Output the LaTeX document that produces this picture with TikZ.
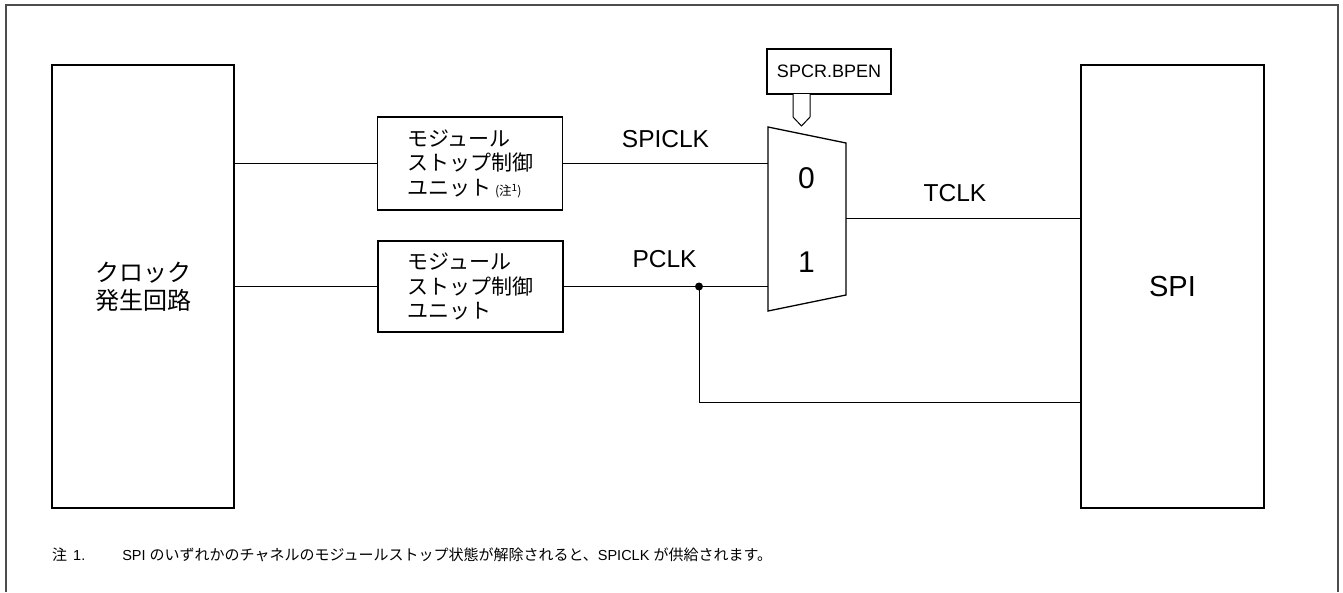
\documentclass[tikz,border=0pt]{standalone}
\usepackage{fontspec}
\setmainfont{Liberation Sans}
\newfontfamily\jp{Noto Sans CJK JP}
\usetikzlibrary{calc}
\begin{document}
\begin{tikzpicture}[x=1pt,y=-1pt,
  blk/.style={draw, line width=1.3pt, inner sep=0pt, outer sep=0pt},
  wire/.style={line width=1pt},
  lbl/.style={font=\fontsize{24.5}{28}\selectfont, inner sep=0pt},
  modtext/.style={font=\jp\fontsize{21}{24.5}\selectfont, align=left},
]
\useasboundingbox (0,0) rectangle (1343,592);
% outer frame
\draw[line width=1.5pt, black!70] (6,592) -- (6,5) -- (1338,5) -- (1338,592);

% main blocks
\node[blk, minimum width=182, minimum height=443, font=\jp\fontsize{24}{28}\selectfont, align=center] (clk) at (143,286.5) {クロック\\発生回路};
\node[blk, minimum width=183, minimum height=443, font=\fontsize{29}{32}\selectfont] (spi) at (1172.5,286.5) {SPI};

\node[blk, minimum width=185, minimum height=93, modtext] (m1) at (470,163.5)
  {モジュール\\ストップ制御\\ユニット\hspace{4pt}{\fontsize{12.5}{12}\selectfont(注\raisebox{3.5pt}{\fontsize{10}{10}\selectfont 1})}};
\node[blk, minimum width=185, minimum height=91, modtext] (m2) at (470.5,286.5)
  {モジュール\\ストップ制御\\ユニット};

\node[blk, minimum width=124, minimum height=45, font=\fontsize{18}{20}\selectfont] (sel) at (829,71.5) {SPCR.BPEN};

% selector arrow (hollow)
\draw[line width=1pt, fill=white] (sel.south -| 793,0) -- (793,117) -- (801.5,126) -- (810,117) -- (sel.south -| 810,0);

% multiplexer
\coordinate (mA) at (768,127);
\coordinate (mB) at (846,143);
\coordinate (mC) at (846,295);
\coordinate (mD) at (768,311);
\draw[line width=1.3pt] (mA) -- (mB) -- (mC) -- (mD) -- cycle;
\node[lbl, font=\fontsize{30}{32}\selectfont] (in0) at (806.5,178) {0};
\node[lbl, font=\fontsize{30}{32}\selectfont] (in1) at (806.5,262) {1};

% wires
\draw[wire] (clk.east |- m1.west) -- (m1.west);
\draw[wire] (clk.east |- m2.west) -- (m2.west);
\draw[wire] (m1.east) -- (m1.east -| mA);
\draw[wire] (m2.east) -- (m2.east -| mA);
\coordinate (out) at (846,218);
\draw[wire] (out) -- (out -| spi.west);
\coordinate (dot) at (699,286.5);
\coordinate (bot) at (699,402);
\fill (dot) circle (4);
\draw[wire] (dot) -- (bot) -- (bot -| spi.west);

% labels
\node[lbl] (lspi) at (665.5,139) {SPICLK};
\node[lbl] (lp) at (664.5,259.5) {PCLK};
\node[lbl] (lt) at (955,193) {TCLK};

% note
\node[anchor=west, inner sep=0pt, font=\fontsize{14.5}{18}\selectfont] (note) at (52,555)
  {{\jp\fontsize{15}{18}\selectfont 注}\hspace{6pt}1.\hspace{37pt}SPI {\jp\fontsize{15}{18}\selectfont のいずれかのチャネルのモジュールストップ状態が解除されると、}SPICLK {\jp\fontsize{15}{18}\selectfont が供給されます。}};
\end{tikzpicture}
\end{document}
